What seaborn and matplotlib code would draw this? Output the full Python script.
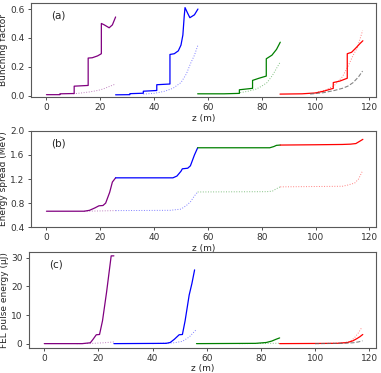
import matplotlib
matplotlib.use("Agg")
import matplotlib.pyplot as plt
import seaborn as sns

# ---- (a) bunching factor ----
bf_purple_z = [0, 5, 5, 10.3, 10.3, 15.5, 15.5, 17, 19, 20.4, 20.4, 21.5, 23.3, 24.5, 25.7]
bf_purple = [0.006, 0.006, 0.012, 0.014, 0.065, 0.07, 0.26, 0.262, 0.275, 0.29, 0.5, 0.49, 0.47, 0.49, 0.545]
bf_purple_dot_z = [10, 13, 16, 19, 21, 23, 25.7]
bf_purple_dot = [0.012, 0.018, 0.025, 0.035, 0.045, 0.06, 0.08]

bf_blue_z = [25.7, 31, 31, 36, 36, 41, 41, 45.9, 45.9, 47.5, 49, 50, 50.7, 51.2, 51.5, 52.5, 53.3, 55, 56.3]
bf_blue = [0.005, 0.006, 0.013, 0.016, 0.03, 0.035, 0.075, 0.08, 0.285, 0.29, 0.31, 0.35, 0.42, 0.55, 0.61, 0.57, 0.54, 0.56, 0.6]
bf_blue_dot_z = [36, 40, 44, 47, 50, 52, 53.5, 55, 56.3]
bf_blue_dot = [0.01, 0.015, 0.03, 0.05, 0.09, 0.15, 0.22, 0.28, 0.35]

bf_green_z = [56.2, 66, 71.7, 71.7, 76.6, 76.6, 79, 81.7, 81.7, 83.8, 85.5, 86.9]
bf_green = [0.012, 0.012, 0.015, 0.04, 0.05, 0.105, 0.12, 0.135, 0.255, 0.28, 0.32, 0.37]
bf_green_dot_z = [72, 75, 78, 80, 82, 84, 86.8]
bf_green_dot = [0.02, 0.03, 0.045, 0.065, 0.09, 0.14, 0.23]

bf_red_z = [86.8, 95, 100, 103, 106.6, 106.6, 109, 111.8, 111.8, 113.4, 115, 116.5, 117.6]
bf_red = [0.01, 0.012, 0.018, 0.03, 0.05, 0.09, 0.1, 0.12, 0.29, 0.3, 0.33, 0.36, 0.38]
bf_red_dot_z = [100, 104, 107, 110, 112, 114, 115.5, 117.5]
bf_red_dot = [0.02, 0.04, 0.07, 0.13, 0.2, 0.28, 0.33, 0.45]
bf_gray_z = [98, 103, 107, 110, 112, 114, 116, 117.5]
bf_gray = [0.01, 0.02, 0.035, 0.05, 0.065, 0.09, 0.13, 0.17]

# ---- (b) energy spread ----
es_purple_z = [0, 14, 16, 18, 19.5, 21, 22, 23.5, 24.5, 25.7]
es_purple = [0.665, 0.665, 0.68, 0.72, 0.755, 0.76, 0.8, 0.98, 1.15, 1.22]
es_purple_dot_z = [14, 20, 25.7]
es_purple_dot = [0.665, 0.67, 0.675]
es_blue_z = [25.7, 47, 48.5, 50, 50.5, 52.5, 53.5, 55, 56.2]
es_blue = [1.22, 1.22, 1.25, 1.33, 1.37, 1.38, 1.42, 1.6, 1.72]
es_blue_dot_z = [25.7, 46, 48, 50, 52, 53.5, 55, 56.2]
es_blue_dot = [0.675, 0.68, 0.69, 0.7, 0.76, 0.82, 0.92, 0.985]
es_green_z = [56.2, 83, 84.5, 85.5, 86.9]
es_green = [1.72, 1.72, 1.74, 1.76, 1.765]
es_green_dot_z = [56.2, 82, 84, 85.5, 86.9]
es_green_dot = [0.985, 0.99, 1.0, 1.04, 1.07]
es_red_z = [86.9, 100, 110, 113, 115, 116.5, 117.6]
es_red = [1.765, 1.77, 1.775, 1.78, 1.79, 1.83, 1.86]
es_red_dot_z = [86.9, 110, 112, 113.5, 114.5, 116, 117.3]
es_red_dot = [1.07, 1.08, 1.1, 1.12, 1.13, 1.2, 1.32]

# ---- (c) FEL pulse energy ----
pe_purple_z = [0, 14, 16, 17, 18, 19.2, 20.4, 21.5, 23, 24.7, 25.7]
pe_purple = [0, 0, 0.2, 0.3, 1.5, 3.1, 3.2, 8, 18, 30.7, 30.7]
pe_purple_dot_z = [12, 18, 22, 25.7]
pe_purple_dot = [0, 0.1, 0.3, 0.6]
pe_blue_z = [25.7, 45, 46.5, 48, 49.8, 51, 52, 53.5, 54.5, 55.5]
pe_blue = [0, 0.1, 0.4, 1.5, 3.1, 3.2, 8, 17, 21, 25.8]
pe_blue_dot_z = [40, 48, 51, 53.5, 55, 56.2]
pe_blue_dot = [0, 0.3, 0.8, 2.3, 3.8, 5.0]
pe_green_z = [56.2, 78, 82, 84, 85.5, 86.9]
pe_green = [0, 0.1, 0.4, 0.9, 1.5, 2.0]
pe_green_dot_z = [72, 80, 86.9]
pe_green_dot = [0, 0.05, 0.15]
pe_red_z = [86.9, 108, 112, 114, 115.5, 116.5, 117.6]
pe_red = [0, 0.1, 0.4, 1.0, 1.8, 2.4, 3.2]
pe_red_dot_z = [100, 110, 113, 114.5, 116, 117.2]
pe_red_dot = [0, 0.2, 0.8, 2.0, 3.8, 5.6]
pe_gray_z = [100, 110, 114, 116, 117.5]
pe_gray = [0, 0.1, 0.3, 0.6, 1.0]

colors = {"purple": "#800080", "blue": "#0000ff", "green": "#008000", "red": "#ff0000"}

sns.set_style("ticks", {"axes.edgecolor": "0.35", "xtick.color": "0.2", "ytick.color": "0.2"})
plt.rcParams["font.family"] = ["DejaVu Sans"]
plt.rcParams["font.size"] = 6.5


def line(ax, z, v, color, ls="-", lw=1.0, alpha=1.0):
    sns.lineplot(x=z, y=v, ax=ax, color=color, linestyle=ls, linewidth=lw,
                 alpha=alpha, estimator=None, sort=False)


def panel(ax, solid, dotted, gray, label, ylabel, ylim, yticks):
    for (z, v), c in zip(solid, colors.values()):
        line(ax, z, v, c, lw=0.9)
    for (z, v), c in zip(dotted, colors.values()):
        line(ax, z, v, c, ls=":", lw=0.7, alpha=0.5)
    if gray is not None:
        line(ax, gray[0], gray[1], "0.4", ls="--", lw=0.8, alpha=0.8)
    ax.set_xlim(-5.8, 122.5)
    ax.set_ylim(*ylim)
    ax.set_yticks(yticks)
    ax.set_xticks([0, 20, 40, 60, 80, 100, 120])
    ax.set_xlabel("z (m)", fontsize=6.5, labelpad=1)
    ax.set_ylabel(ylabel, fontsize=6.5, labelpad=1.5)
    ax.tick_params(labelsize=6.5, length=2.5, width=0.6, pad=2)
    ax.text(0.06, 0.84, label, transform=ax.transAxes, fontsize=7.5)
    for s in ax.spines.values():
        s.set_linewidth(0.8)


fig = plt.figure(figsize=(3.81, 3.73), dpi=100)
ax1 = fig.add_axes([0.081, 0.740, 0.906, 0.252])
ax2 = fig.add_axes([0.081, 0.391, 0.906, 0.258])
ax3 = fig.add_axes([0.075, 0.068, 0.912, 0.256])

panel(ax1,
      [(bf_purple_z, bf_purple), (bf_blue_z, bf_blue), (bf_green_z, bf_green), (bf_red_z, bf_red)],
      [(bf_purple_dot_z, bf_purple_dot), (bf_blue_dot_z, bf_blue_dot),
       (bf_green_dot_z, bf_green_dot), (bf_red_dot_z, bf_red_dot)],
      (bf_gray_z, bf_gray), "(a)", "Bunching factor", (-0.01, 0.642), [0.0, 0.2, 0.4, 0.6])
ax1.set_yticklabels(["0.0", "0.2", "0.4", "0.6"])

panel(ax2,
      [(es_purple_z, es_purple), (es_blue_z, es_blue), (es_green_z, es_green), (es_red_z, es_red)],
      [(es_purple_dot_z, es_purple_dot), (es_blue_dot_z, es_blue_dot),
       (es_green_dot_z, es_green_dot), (es_red_dot_z, es_red_dot)],
      None, "(b)", "Energy spread (MeV)", (0.4, 2.0), [0.4, 0.8, 1.2, 1.6, 2.0])

panel(ax3,
      [(pe_purple_z, pe_purple), (pe_blue_z, pe_blue), (pe_green_z, pe_green), (pe_red_z, pe_red)],
      [(pe_purple_dot_z, pe_purple_dot), (pe_blue_dot_z, pe_blue_dot),
       (pe_green_dot_z, pe_green_dot), (pe_red_dot_z, pe_red_dot)],
      (pe_gray_z, pe_gray), "(c)", "FEL pulse energy (\u03bcJ)", (-1.4, 32), [0, 10, 20, 30])

fig.savefig("out.png", dpi=100)
